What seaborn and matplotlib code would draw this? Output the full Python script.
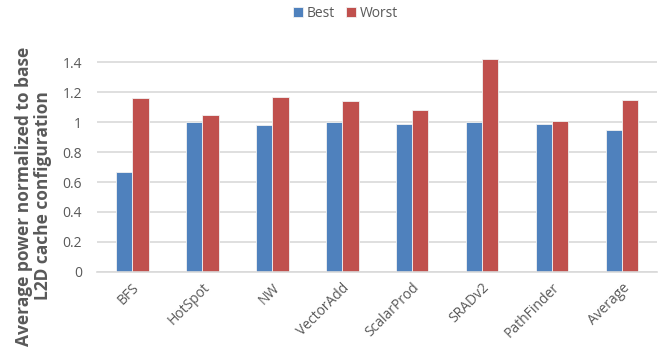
import matplotlib
matplotlib.use("Agg")
import matplotlib.pyplot as plt
import seaborn as sns
import pandas as pd

benchmarks = ["BFS", "HotSpot", "NW", "VectorAdd", "ScalarProd", "SRADv2", "PathFinder", "Average"]
best = [0.67, 1.00, 0.98, 1.00, 0.99, 1.00, 0.99, 0.95]
worst = [1.16, 1.045, 1.165, 1.14, 1.08, 1.42, 1.005, 1.145]
series = ["Best", "Worst"]
yticks = [0, 0.2, 0.4, 0.6, 0.8, 1, 1.2, 1.4]
ytick_labels = ["0", "0.2", "0.4", "0.6", "0.8", "1", "1.2", "1.4"]

df = pd.DataFrame({
    "benchmark": benchmarks * 2,
    "config": [series[0]] * len(best) + [series[1]] * len(worst),
    "power": best + worst,
})

sns.set_theme(style="white")
plt.rcParams["font.family"] = ["Open Sans", "DejaVu Sans"]

fig = plt.figure(figsize=(6.65, 3.5), dpi=100)
# 0 sits at y=272 px, 1.45 at about y=54 px
ax = fig.add_axes([0.146, 0.223, 0.842, 0.621])

palette = {"Best": "#4F81BD", "Worst": "#C0504D"}
sns.barplot(data=df, x="benchmark", y="power", hue="config", palette=palette,
            width=0.47, ax=ax, saturation=1, edgecolor="#f2f2f2", linewidth=0.6)

ax.set_ylim(0, 1.45)
ax.set_yticks(yticks)
ax.set_yticklabels(ytick_labels)
ax.yaxis.grid(True, color="#D9D9D9", linewidth=1.2)
ax.set_axisbelow(True)
for s in ["top", "right", "left"]:
    ax.spines[s].set_visible(False)
ax.spines["bottom"].set_color("#D9D9D9")
ax.spines["bottom"].set_linewidth(1.2)
ax.set_xlim(-0.5, len(benchmarks) - 0.5)

ax.tick_params(axis="both", length=0, colors="#595959", labelsize=10)
plt.setp(ax.get_xticklabels(), rotation=45, ha="right", rotation_mode="anchor")
ax.tick_params(axis="y", pad=11)
ax.tick_params(axis="x", pad=6)
ax.set_xlabel("")
ax.set_ylabel("Average power normalized to base\nL2D cache configuration",
              fontsize=12.5, fontweight="bold", color="#595959", linespacing=1.1,
              va="center")
ax.yaxis.set_label_coords(-0.114, 0.35)

handles, labels = ax.get_legend_handles_labels()
ax.get_legend().remove()
leg = fig.legend(handles, labels, loc="center", bbox_to_anchor=(0.52, 0.962), ncol=2,
                 frameon=False, fontsize=10, handlelength=0.7, handleheight=0.7,
                 handletextpad=0.3, columnspacing=0.8)
for t in leg.get_texts():
    t.set_color("#595959")

fig.savefig("out.png", dpi=100)
